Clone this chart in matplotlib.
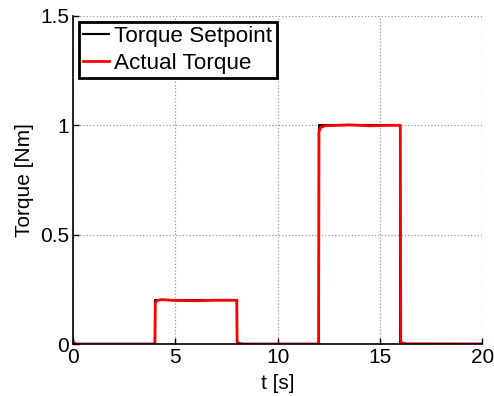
import matplotlib
matplotlib.use("Agg")
import matplotlib.pyplot as plt

# Torque setpoint profile (breakpoints of the step sequence)
setpoint_t = [0, 4, 4, 8, 8, 12, 12, 16, 16, 20]
setpoint_tq = [0, 0, 0.2, 0.2, 0, 0, 1.0, 1.0, 0, 0]

actual_t = [0, 0.05, 0.1, 4.0, 4.02, 4.1, 4.3, 5.0, 6.0, 7.0, 8.0, 8.02, 8.1, 8.3,
            12.0, 12.02, 12.1, 12.3, 13.5, 14.5, 15.5, 16.0, 16.02, 16.1, 16.3, 20]
actual_tq = [0.012, 0.004, 0.0, 0.0, 0.19, 0.198, 0.203, 0.199, 0.198, 0.2, 0.2, 0.01, 0.004, 0.0,
             0.0, 0.97, 0.99, 0.998, 1.002, 0.998, 1.0, 1.0, 0.012, 0.004, 0.001, 0.0]

plt.rcParams['font.family'] = ['Liberation Sans', 'DejaVu Sans']

fig = plt.figure(figsize=(4.94, 3.96), dpi=100)
ax = fig.add_axes([0.148, 0.1313, 0.828, 0.8283])

ax.plot(setpoint_t, setpoint_tq, color='black', lw=1.5, label='Torque Setpoint')
ax.plot(actual_t, actual_tq, color='#ff0000', lw=2.0, label='Actual Torque')

ax.set_xlim(0, 20)
ax.set_ylim(0, 1.5)
ax.set_xticks([0, 5, 10, 15, 20])
ax.set_yticks([0, 0.5, 1, 1.5])
ax.set_yticklabels(['0', '0.5', '1', '1.5'])
ax.tick_params(direction='in', length=4, width=1, labelsize=15, pad=3)
ax.grid(True, linestyle=':', color='#999999', lw=0.9)
for s in ['top', 'right']:
    ax.spines[s].set_visible(False)
for s in ['left', 'bottom']:
    ax.spines[s].set_linewidth(1.2)

ax.set_xlabel('t [s]', fontsize=15, labelpad=5)
ax.set_ylabel('Torque [Nm]', fontsize=15, labelpad=4)

leg = ax.legend(loc='upper left', fontsize=16.2, fancybox=False, framealpha=1,
                edgecolor='black', handlelength=1.15, handletextpad=0.22,
                borderpad=0.2, labelspacing=0.25, borderaxespad=0.25)
leg.get_frame().set_linewidth(2.0)

fig.savefig('out.png', dpi=100)
